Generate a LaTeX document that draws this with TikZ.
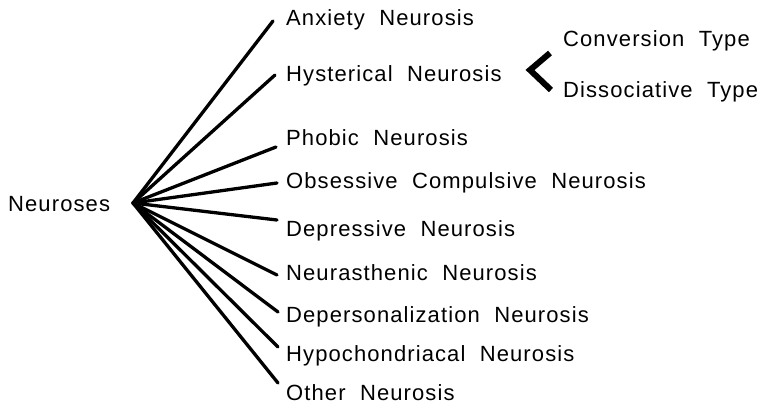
\documentclass[tikz,border=0pt]{standalone}
\usepackage{fontspec}
\setmainfont{Liberation Sans}[LetterSpace=5,WordSpace=2.0]
\begin{document}
\begin{tikzpicture}[x=1pt,y=-1pt,
  lbl/.style={anchor=base west,inner sep=0pt,font=\fontsize{22}{26}\selectfont},
  fan/.style={line width=3.3pt,line cap=round},
  brk/.style={line width=6pt,line join=miter}]
\useasboundingbox (0,0) rectangle (772,412);
\node[lbl] (root) at (8,211) {Neuroses};
\coordinate (o) at (133,203);
% line end points
\coordinate (e1) at (273,21);
\coordinate (e2) at (275,75);
\coordinate (e3) at (276,147);
\coordinate (e4) at (277,183);
\coordinate (e5) at (277,220);
\coordinate (e6) at (277,275);
\coordinate (e7) at (278,312);
\coordinate (e8) at (278,347);
\coordinate (e9) at (278,383);
% labels
\node[lbl] (n1) at (286,26) {Anxiety Neurosis};
\node[lbl] (n2) at (286,82) {Hysterical Neurosis};
\node[lbl] (n3) at (286,146) {Phobic Neurosis};
\node[lbl] (n4) at (286,188) {Obsessive Compulsive Neurosis};
\node[lbl] (n5) at (286,236) {Depressive Neurosis};
\node[lbl] (n6) at (286,280) {Neurasthenic Neurosis};
\node[lbl] (n7) at (286,322) {Depersonalization Neurosis};
\node[lbl] (n8) at (286,361) {Hypochondriacal Neurosis};
\node[lbl] (n9) at (286,400) {Other Neurosis};
\node[lbl] (c1) at (563,47) {Conversion Type};
\node[lbl] (c2) at (563,98) {Dissociative Type};
% fan
\foreach \i in {1,...,9} \draw[fan] (o) -- (e\i);
% bracket
\coordinate (b1) at (550,53);
\coordinate (bt) at (530,70);
\coordinate (b2) at (551,90);
\draw[brk] (b1) -- (bt) -- (b2);
\end{tikzpicture}
\end{document}
